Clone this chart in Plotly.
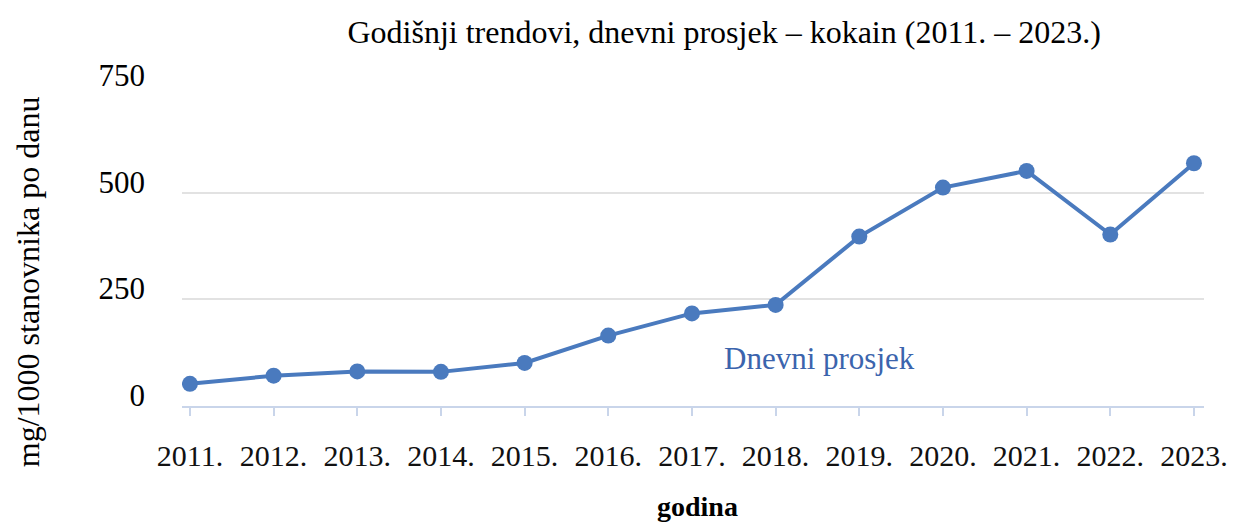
import plotly.graph_objects as go

# Godišnji dnevni prosjek kokaina (mg/1000 stanovnika po danu)
godine = ["2011.", "2012.", "2013.", "2014.", "2015.", "2016.", "2017.",
          "2018.", "2019.", "2020.", "2021.", "2022.", "2023."]
dnevni_prosjek = [52, 71, 81, 80, 101, 165, 217, 237, 397, 512, 551, 402, 569]
y_ticks = [0, 250, 500, 750]

LINE_BLUE = "#4a7abe"
TEXT_BLUE = "#3b64ad"
AXIS_BLUE = "#c9d5ea"
SERIF = "Liberation Serif"

fig = go.Figure()
fig.add_trace(go.Scatter(
    x=godine,
    y=dnevni_prosjek,
    mode="lines+markers",
    line=dict(color=LINE_BLUE, width=4),
    marker=dict(color=LINE_BLUE, size=16),
    showlegend=False,
    hoverinfo="skip",
))

fig.update_layout(
    width=1240,
    height=524,
    margin=dict(l=182, r=28, t=86, b=118),
    paper_bgcolor="white",
    plot_bgcolor="white",
    font=dict(family=SERIF, color="black"),
    title=dict(
        text="Godišnji trendovi, dnevni prosjek – kokain (2011. – 2023.)",
        x=0.584, xanchor="center", y=0.94, yanchor="middle",
        font=dict(size=32, family=SERIF, color="black"),
    ),
)

fig.update_xaxes(
    type="category",
    range=[-0.095, 12.12],
    showgrid=False,
    showline=True, linecolor=AXIS_BLUE, linewidth=2,
    ticks="outside", ticklen=8, tickcolor=AXIS_BLUE, tickwidth=2,
    tickfont=dict(size=30, family=SERIF, color="#111111"),
    ticklabelstandoff=14,
    zeroline=False,
)

fig.update_yaxes(
    range=[0, 750],
    tickvals=y_ticks,
    ticktext=[str(v) for v in y_ticks],
    showgrid=True, gridcolor="#e2e2e2", gridwidth=2,
    showline=False, zeroline=False,
    ticks="",
    tickfont=dict(size=31, family=SERIF, color="black"),
    ticklabelstandoff=36,
    ticklabelshift=-11,
)

# Naziv serije uz liniju
fig.add_annotation(
    x=7.53, y=111, xref="x", yref="y",
    text="Dnevni prosjek", showarrow=False,
    font=dict(size=31, family=SERIF, color=TEXT_BLUE),
)

# Naslovi osi
fig.add_annotation(
    x=702, y=506, xref="paper", yref="paper",
    text="godina", showarrow=False,
    font=dict(size=28, family=SERIF, color="black", weight="bold"),
)
fig.add_annotation(
    x=27, y=282, xref="paper", yref="paper",
    text="mg/1000 stanovnika po danu", textangle=-90, showarrow=False,
    font=dict(size=32, family=SERIF, color="black"),
)

# pozicije naslova osi zadane u pikselima stranice
for ann in fig.layout.annotations[1:]:
    px, py = ann.x, ann.y
    ann.x = (px - 182) / (1240 - 182 - 28)
    ann.y = (524 - 118 - py) / (524 - 86 - 118)
    ann.xanchor = "center"
    ann.yanchor = "middle"

fig.write_html("out.html")
